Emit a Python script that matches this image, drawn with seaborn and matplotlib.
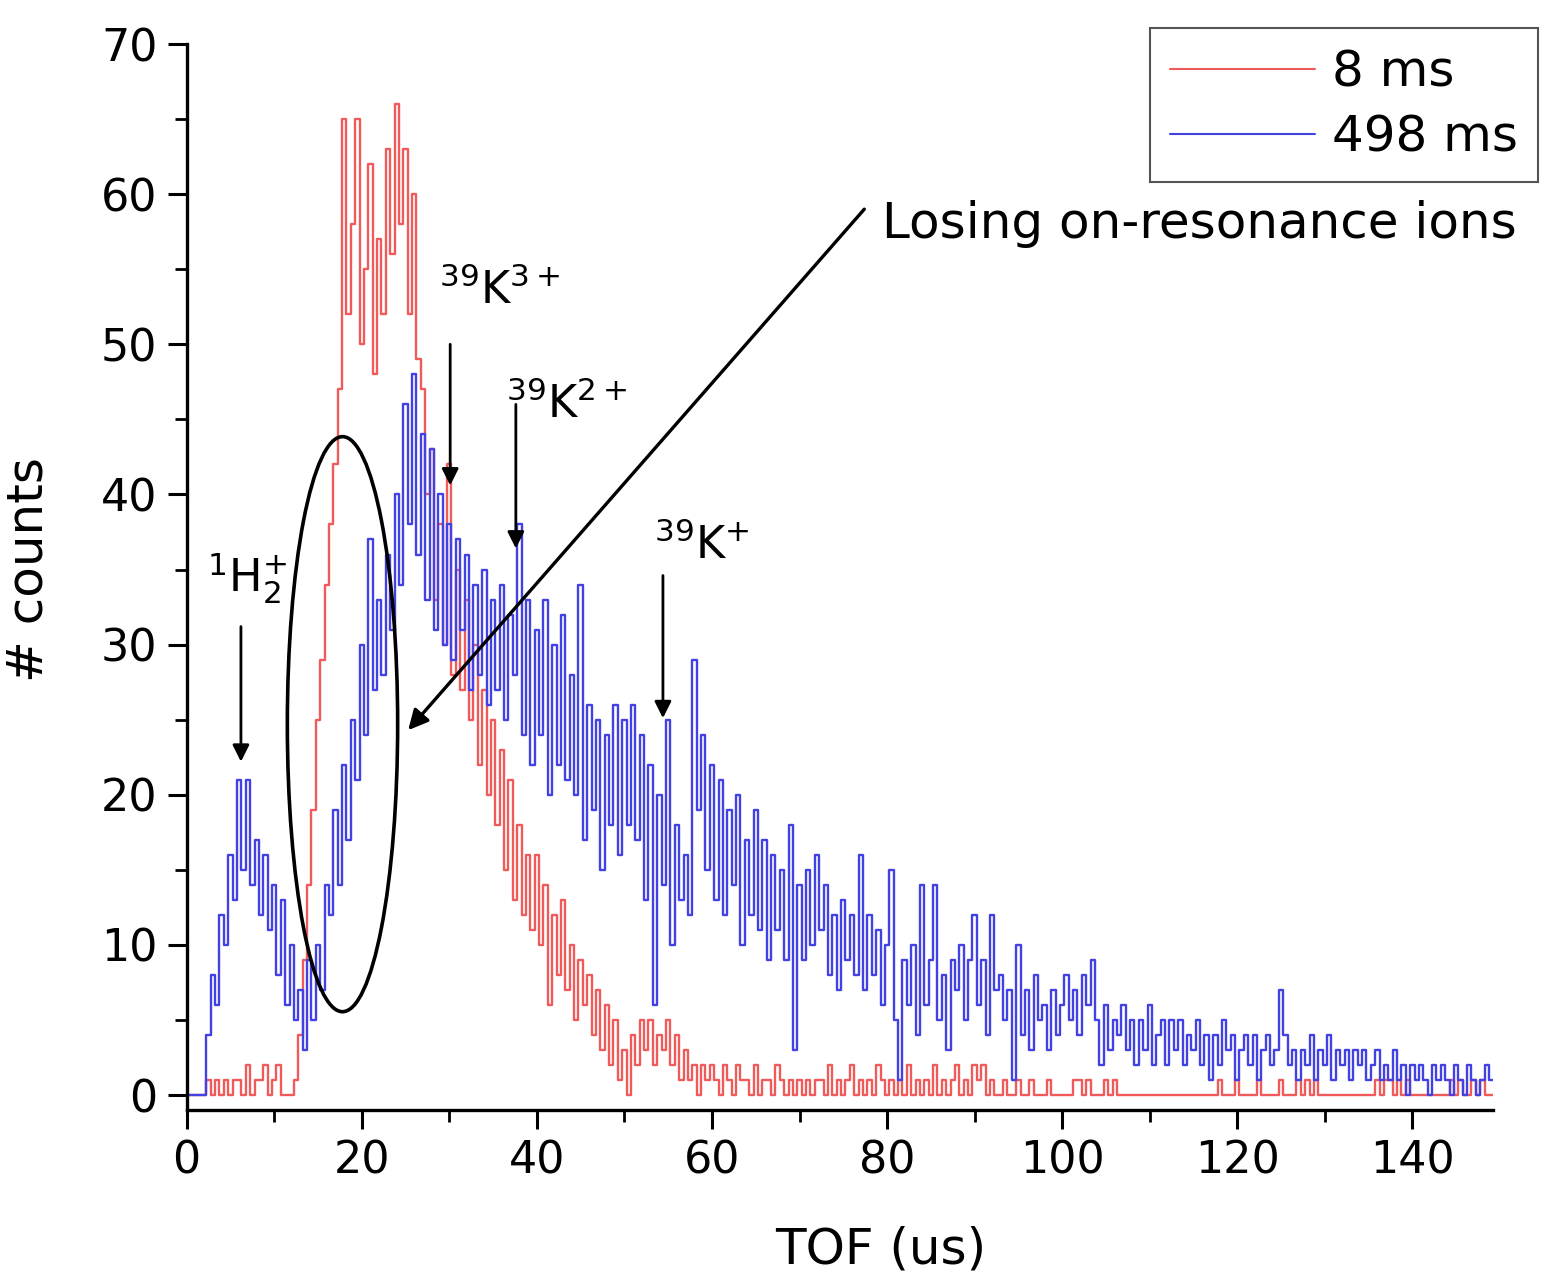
import numpy as np
import pandas as pd
import matplotlib
matplotlib.use("Agg")
import matplotlib.pyplot as plt
import seaborn as sns
from matplotlib.patches import Ellipse
from matplotlib.lines import Line2D
from matplotlib.ticker import MultipleLocator

# ---------------- data ----------------
TOF_STEP_US = 0.5  # bin width of the TOF spectrum (us)

# counts per 0.5 us bin, 0 .. 149.5 us ; each row covers 5 us
counts_8ms = [
    0, 0, 0, 0, 0, 1, 0, 1, 0, 1,
    0, 1, 1, 0, 2, 0, 1, 1, 2, 0,
    1, 2, 0, 0, 0, 1, 4, 9, 14, 19,
    25, 29, 34, 38, 42, 47, 65, 52, 58, 65,
    50, 55, 62, 48, 57, 52, 63, 56, 66, 58,
    63, 52, 60, 49, 47, 40, 43, 33, 38, 30,
    42, 28, 35, 27, 33, 25, 30, 22, 27, 20,
    25, 18, 23, 15, 21, 13, 18, 12, 16, 11,
    16, 10, 14, 6, 12, 8, 13, 7, 10, 5,
    9, 6, 8, 4, 7, 3, 6, 2, 5, 1,
    3, 0, 4, 2, 5, 3, 5, 2, 4, 3,
    5, 2, 4, 1, 3, 1, 2, 0, 2, 1,
    2, 1, 0, 2, 1, 0, 2, 1, 1, 0,
    2, 0, 1, 1, 0, 2, 1, 0, 1, 0,
    1, 0, 1, 0, 1, 1, 0, 2, 0, 1,
    0, 1, 2, 0, 1, 0, 1, 0, 2, 1,
    0, 1, 0, 1, 0, 2, 0, 1, 0, 1,
    0, 2, 0, 1, 0, 1, 2, 0, 1, 0,
    2, 1, 2, 0, 1, 0, 0, 1, 0, 0,
    1, 0, 0, 1, 0, 0, 0, 1, 0, 0,
    0, 0, 0, 1, 1, 0, 1, 0, 0, 0,
    1, 0, 1, 0, 0, 0, 0, 0, 0, 0,
    0, 0, 0, 0, 0, 0, 0, 0, 0, 0,
    0, 0, 0, 0, 0, 0, 1, 0, 0, 0,
    1, 0, 0, 0, 0, 1, 0, 0, 0, 0,
    1, 0, 0, 0, 1, 0, 1, 0, 1, 0,
    0, 0, 0, 0, 0, 0, 0, 0, 0, 0,
    0, 0, 1, 0, 1, 1, 0, 1, 0, 1,
    0, 0, 0, 0, 0, 0, 0, 0, 0, 1,
    0, 1, 0, 0, 1, 0, 1, 0, 0, 0,
]

counts_498ms = [
    0, 0, 0, 0, 0, 4, 8, 6, 12, 10,
    16, 13, 21, 15, 21, 14, 17, 12, 16, 11,
    14, 8, 13, 6, 10, 5, 7, 3, 9, 5,
    10, 7, 14, 12, 19, 14, 22, 17, 25, 21,
    30, 24, 37, 27, 33, 28, 36, 31, 40, 34,
    46, 38, 48, 36, 44, 33, 43, 31, 40, 30,
    38, 29, 37, 31, 36, 27, 34, 28, 35, 26,
    33, 27, 34, 25, 32, 28, 38, 24, 33, 22,
    31, 24, 33, 20, 30, 22, 32, 21, 28, 20,
    34, 17, 26, 19, 25, 15, 24, 18, 26, 16,
    25, 18, 26, 17, 24, 13, 22, 6, 20, 14,
    25, 10, 18, 13, 16, 12, 29, 19, 24, 15,
    22, 13, 21, 12, 19, 14, 20, 10, 17, 12,
    19, 11, 17, 9, 16, 11, 15, 9, 18, 3,
    14, 9, 15, 10, 16, 11, 14, 8, 12, 7,
    13, 9, 12, 8, 16, 7, 12, 8, 11, 6,
    10, 15, 5, 1, 9, 6, 10, 4, 14, 6,
    9, 14, 5, 8, 3, 9, 7, 10, 5, 9,
    12, 6, 9, 4, 12, 7, 8, 5, 7, 1,
    10, 4, 7, 3, 8, 5, 6, 3, 7, 4,
    6, 8, 5, 7, 4, 8, 6, 9, 5, 2,
    6, 3, 5, 4, 6, 3, 5, 2, 5, 3,
    6, 2, 4, 5, 2, 5, 3, 5, 2, 4,
    3, 5, 2, 4, 1, 4, 2, 5, 3, 4,
    1, 3, 4, 2, 4, 1, 3, 4, 2, 3,
    7, 4, 2, 3, 1, 3, 2, 4, 1, 3,
    2, 4, 1, 3, 2, 3, 1, 3, 2, 3,
    1, 2, 3, 1, 2, 1, 3, 1, 2, 0,
    2, 1, 2, 1, 0, 2, 1, 2, 1, 0,
    2, 1, 0, 2, 1, 0, 1, 2, 1, 1,
]

series_labels = ["8 ms", "498 ms"]
series_colors = ["#f05a5a", "#4242e4"]
x_ticks = [0, 20, 40, 60, 80, 100, 120, 140]
y_ticks = [0, 10, 20, 30, 40, 50, 60, 70]
ion_labels = [r"$^{1}\mathrm{H}_{2}^{+}$", r"$^{39}\mathrm{K}^{3+}$",
              r"$^{39}\mathrm{K}^{2+}$", r"$^{39}\mathrm{K}^{+}$"]
note_text = "Losing on-resonance ions"

assert len(counts_8ms) == len(counts_498ms) == 300

# ---------------- build long-form table ----------------
tof = np.arange(len(counts_8ms)) * TOF_STEP_US
df = pd.DataFrame({
    "TOF": np.concatenate([tof, tof]),
    "counts": np.concatenate([counts_8ms, counts_498ms]),
    "delay": [series_labels[0]] * len(tof) + [series_labels[1]] * len(tof),
})

# ---------------- style ----------------
sns.set_style("ticks")
plt.rcParams["font.family"] = ["DejaVu Sans"]
plt.rcParams["mathtext.fontset"] = "dejavusans"
for key in ("text.color", "axes.labelcolor", "xtick.color", "ytick.color",
            "axes.edgecolor"):
    plt.rcParams[key] = "black"

FS_TICK = 32
FS_BIG = 36
fig = plt.figure(figsize=(15.49, 12.83), dpi=100)
fig.patch.set_facecolor("white")
ax = fig.add_axes([0.1205, 0.1348, 0.8433, 0.8309])

sns.lineplot(data=df, x="TOF", y="counts", hue="delay", hue_order=series_labels,
             palette=dict(zip(series_labels, series_colors)), estimator=None,
             errorbar=None, legend=False, drawstyle="steps-mid", lw=1.7, ax=ax)

ax.set_xlim(0, 149.2)
ax.set_ylim(-1, 70)
ax.set_xticks(x_ticks)
ax.set_yticks(y_ticks)
ax.xaxis.set_minor_locator(MultipleLocator(10))
ax.yaxis.set_minor_locator(MultipleLocator(5))
ax.tick_params(which="major", direction="out", length=14, width=2.2,
               labelsize=FS_TICK, pad=7, color="black", labelcolor="black")
ax.tick_params(which="minor", direction="out", length=8.5, width=2.0, color="black")
sns.despine(ax=ax)
for s in ("left", "bottom"):
    ax.spines[s].set_linewidth(2.4)
    ax.spines[s].set_color("black")

ax.set_xlabel("TOF (us)", fontsize=FS_BIG)
ax.set_ylabel("# counts", fontsize=FS_BIG)
ax.xaxis.label.set_va("center")
ax.xaxis.set_label_coords(0.531, -0.131)
ax.yaxis.label.set_va("center")
ax.yaxis.set_label_coords(-0.121, 0.507)

# legend
handles = [Line2D([0], [0], color=c, lw=1.5) for c in series_colors]
leg = ax.legend(handles, series_labels, loc="upper right",
                bbox_to_anchor=(0.993, 0.978), bbox_transform=fig.transFigure,
                borderaxespad=0, fontsize=FS_BIG, frameon=True, fancybox=False,
                framealpha=1, edgecolor="#555555", handlelength=2.9,
                handletextpad=0.35, borderpad=0.4, labelspacing=0.35)
leg.get_frame().set_linewidth(1.5)

# ellipse around the lost ions
ax.add_patch(Ellipse((17.8, 24.7), 12.6, 38.3, fill=False, edgecolor="black",
                     lw=2.6, zorder=5))

# big arrow + note
ax.annotate("", xy=(25.3, 24.3), xytext=(77.4, 59.0),
            arrowprops=dict(arrowstyle="-|>", color="black", lw=2.4,
                            mutation_scale=30, shrinkA=0, shrinkB=0), zorder=6)
ax.text(79.4, 58.0, note_text, fontsize=FS_BIG, ha="left", va="center",
        clip_on=False, zorder=6)

# ion markers
arrow_specs = [(6.2, 31.2, 22.2), (30.1, 50.0, 40.6), (37.6, 46.0, 36.4), (54.4, 34.6, 25.1)]
label_pos = [(6.9, 34.4), (35.8, 53.6), (43.4, 46.0), (58.8, 36.6)]
for (xa, y0, y1), (lx, ly), lab in zip(arrow_specs, label_pos, ion_labels):
    ax.annotate("", xy=(xa, y1), xytext=(xa, y0),
                arrowprops=dict(arrowstyle="-|>", color="black", lw=2.0,
                                mutation_scale=25, shrinkA=0, shrinkB=0), zorder=6)
    ax.text(lx, ly, lab, fontsize=FS_TICK, ha="center", va="center", zorder=6)

fig.savefig("out.png", dpi=100)
